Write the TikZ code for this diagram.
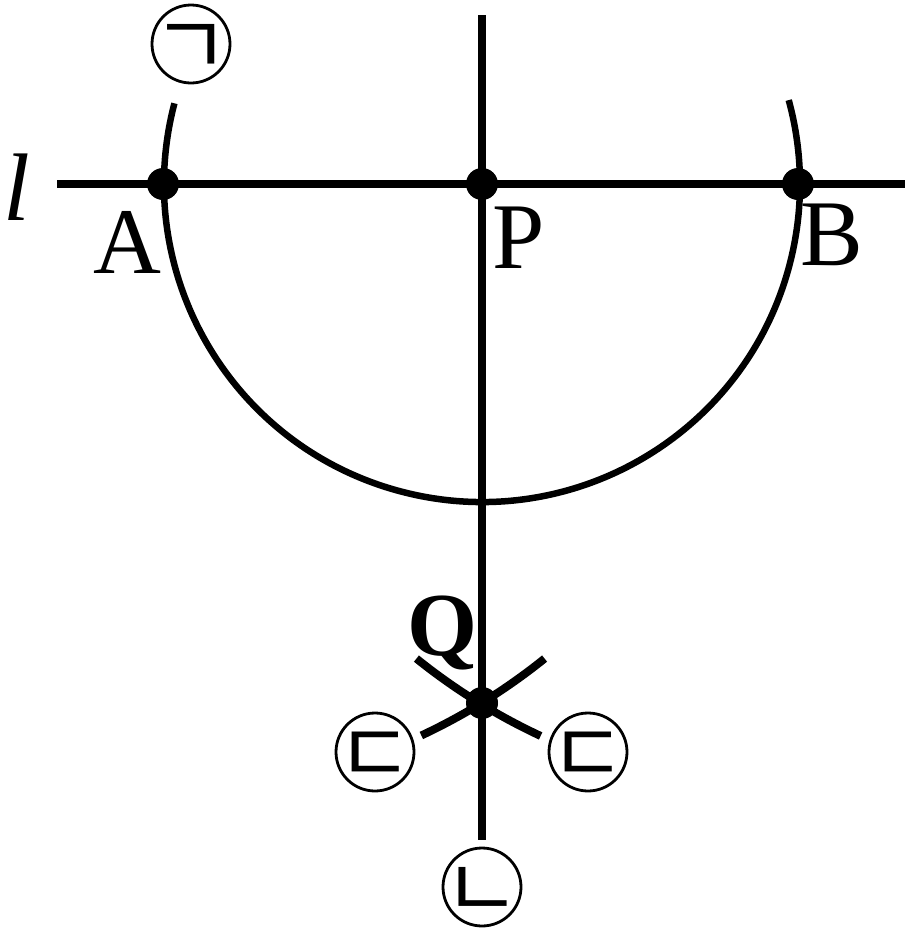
\documentclass[tikz,border=0pt]{standalone}
\usepackage{fontspec}
\setmainfont{Liberation Serif}
\newfontfamily\kofont{Noto Sans CJK KR}
\newcommand{\jm}[1]{\raisebox{-31pt}[0pt][0pt]{\makebox[0pt]{#1}}}
\begin{document}
\begin{tikzpicture}[x=1pt,y=-1pt,
  mainline/.style={line width=8pt},
  arcline/.style={line width=6.5pt},
  crossarc/.style={line width=8pt},
  dot/.style={fill=black},
  lbl/.style={inner sep=0pt,anchor=base,font=\fontsize{94}{94}\selectfont},
  jamo/.style={draw,circle,line width=2.8pt,minimum size=78pt,inner sep=0pt,font=\kofont\fontsize{84}{84}\selectfont}]
\useasboundingbox (0,0) rectangle (907,940);
\coordinate (P) at (482,184);
\coordinate (A) at (163,184);
\coordinate (B) at (798,184);
\coordinate (Q) at (482,703);
\coordinate (lL) at (57,184);
\coordinate (lR) at (905,184);
\coordinate (vT) at (482,15);
\coordinate (vB) at (482,840);
% lines
\draw[mainline] (lL) -- (lR);
\draw[mainline] (vT) -- (vB);
% semicircle arc centred at P
\draw[arcline] (P) ++(194.7:318) arc[start angle=194.7, end angle=-15.3, radius=318];
% cross arcs at Q
\draw[crossarc] (A) ++(64.9:609) arc[start angle=64.9, end angle=51.2, radius=609];
\draw[crossarc] (B) ++(128.8:609) arc[start angle=128.8, end angle=115.0, radius=609];
% dots
\fill[dot] (A) circle[radius=16];
\fill[dot] (P) circle[radius=16];
\fill[dot] (B) circle[radius=16];
\fill[dot] (Q) circle[radius=16];
% labels
\node[lbl,font=\fontsize{96}{96}\selectfont\itshape] (ll) at (17,220) {l};
\node[lbl] (la) at (127,273) {A};
\node[lbl] (lp) at (519,268) {P};
\node[lbl] (lb) at (832,265) {B};
\node[lbl,font=\fontsize{90}{90}\selectfont\bfseries] (lq) at (442,655) {Q};
% circled jamo
\node[jamo] (kg) at (191,44) {\jm{ㄱ}};
\node[jamo] (kd1) at (375,752) {\jm{ㄷ}};
\node[jamo] (kd2) at (588,752) {\jm{ㄷ}};
\node[jamo] (kn) at (482,887) {\jm{ㄴ}};
\end{tikzpicture}
\end{document}
